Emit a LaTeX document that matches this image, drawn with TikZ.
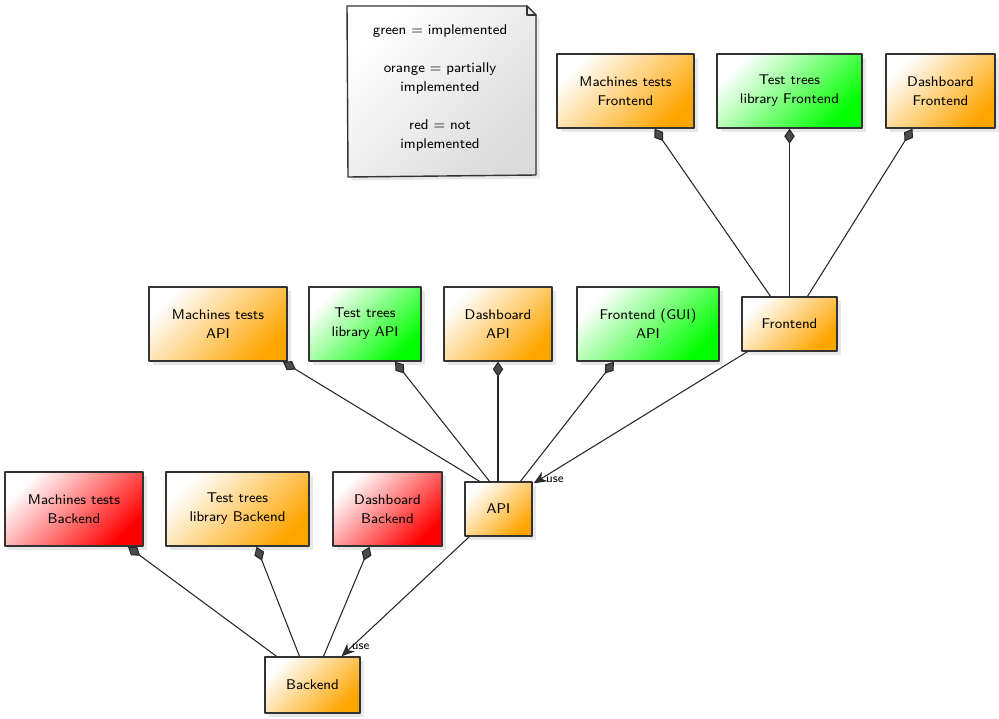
\documentclass[tikz,border=0pt]{standalone}
\usetikzlibrary{calc,arrows.meta,positioning,shadows}
\definecolor{partorange}{RGB}{255,165,0}
\definecolor{implgreen}{RGB}{0,255,0}
\definecolor{noimplred}{RGB}{255,0,0}
\tikzset{canvas/.style={
  x=0.2mm,y=-0.2mm,
  >=Stealth,line join=round,line cap=round
},
  box/.style={draw=black!80,line width=0.8pt,align=center,
    minimum height=14.8mm,inner sep=2pt,
    font=\sffamily\fontsize{8}{10.8}\selectfont,
    drop shadow={shadow xshift=0.7mm,shadow yshift=-0.7mm,opacity=0.18}},
  partial/.style={box,top color=white,bottom color=partorange,shading angle=45},
  done/.style={box,top color=white,bottom color=implgreen,shading angle=45},
  todo/.style={box,top color=white,bottom color=noimplred,shading angle=45},
  part/.style={draw=black!85,line width=0.6pt,
    {Diamond[length=3mm,width=2.1mm,fill=black!70]}-},
  uses/.style={draw=black!85,line width=0.6pt,
    -{Stealth[length=2.6mm,width=2.2mm,fill=black!80]}},
  usetag/.style={font=\sffamily\fontsize{7}{8}\selectfont,inner sep=0pt}
}
\begin{document}
\begin{tikzpicture}[canvas]
  \useasboundingbox (0,0) rectangle (999,718);
  % legend note
  \draw[draw=black!80,line width=0.8pt,top color=white,bottom color=gray!28,shading angle=45,
    drop shadow={shadow xshift=0.7mm,shadow yshift=-0.7mm,opacity=0.18}]
    (347,6) -- (527,6) -- (536,15) -- (536,175) -- (348,177) -- cycle;
  \draw[black!80,line width=0.6pt] (527,6) -- (527,15) -- (536,15);
  \node[align=center,font=\sffamily\fontsize{8}{10.8}\selectfont] (legend) at (440,88)
    {green = implemented\\[11pt]orange = partially\\implemented\\[11pt]red = not\\implemented};
  % frontend layer
  \node[partial,minimum width=27.4mm] (mtfront) at (625.5,91) {Machines tests\\Frontend};
  \node[done,minimum width=29mm] (ttfront) at (789.5,91) {Test trees\\library Frontend};
  \node[partial,minimum width=21.8mm] (dashfront) at (940.5,91) {Dashboard\\Frontend};
  \node[partial,minimum width=19mm,minimum height=10.8mm] (front) at (789.5,324) {Frontend};
  % api layer
  \node[partial,minimum width=27.6mm] (mtapi) at (218,324) {Machines tests\\API};
  \node[done,minimum width=22.4mm] (ttapi) at (365,324) {Test trees\\library API};
  \node[partial,minimum width=21.6mm] (dashapi) at (498,324) {Dashboard\\API};
  \node[done,minimum width=28.4mm] (guiapi) at (648,324) {Frontend (GUI)\\API};
  \node[partial,minimum width=13.4mm,minimum height=10.8mm] (api) at (498.5,509) {API};
  % backend layer
  \node[todo,minimum width=27.6mm] (mtback) at (74,509) {Machines tests\\Backend};
  \node[partial,minimum width=28.6mm] (ttback) at (237.5,509) {Test trees\\library Backend};
  \node[todo,minimum width=21.8mm] (dashback) at (387.5,509) {Dashboard\\Backend};
  \node[partial,minimum width=19mm,minimum height=11.2mm] (back) at (312.5,685) {Backend};
  % compositions
  \draw[part] ($(mtfront.south)+(29,0)$) -- ($(front.north)+(-19,0)$);
  \draw[part] (ttfront.south) -- (ttfront.south |- front.north);
  \draw[part] ($(dashfront.south)+(-28,0)$) -- ($(front.north)+(18,0)$);
  \draw[part] ($(mtapi.south)+(65,0)$) -- ($(api.north)+(-19,0)$);
  \draw[part] ($(ttapi.south)+(30,0)$) -- ($(api.north)+(-9,0)$);
  \draw[part] (dashapi.south) -- (dashapi.south |- api.north);
  \draw[part] ($(guiapi.south)+(-34,0)$) -- ($(api.north)+(22,0)$);
  \draw[part] ($(mtback.south)+(54,0)$) -- ($(back.north)+(-36,0)$);
  \draw[part] ($(ttback.south)+(19,0)$) -- ($(back.north)+(-13,0)$);
  \draw[part] ($(dashback.south)+(-18,0)$) -- ($(back.north)+(11,0)$);
  % usages
  \draw[uses] ($(front.south west)+(6,0)$) -- ($(api.north east)+(1,2)$);
  \node[usetag,anchor=west] (apiuse) at ($(api.north east)+(13,-2)$) {use};
  \draw[uses] ($(api.south west)+(5,0)$) -- ($(back.north)+(29,0)$);
  \node[usetag,anchor=west] (backuse) at ($(back.north)+(39,-10)$) {use};
\end{tikzpicture}
\end{document}
